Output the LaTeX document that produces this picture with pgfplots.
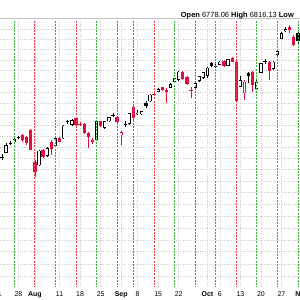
\documentclass[border=0pt]{standalone}
\usepackage{pgfplots}
\pgfplotsset{compat=1.18}
\usepackage{pgfplotstable}
\usepackage{fontspec}
\setmainfont{Liberation Sans}

\definecolor{cred}{RGB}{222,16,64}
\definecolor{linered}{RGB}{238,60,60}
\definecolor{linegreen}{RGB}{56,176,56}
\definecolor{gridgray}{RGB}{205,205,205}
\definecolor{bordergray}{RGB}{195,195,195}

% n = trading day (0 = Jul 22), o h l c
\pgfplotstableread{
n o h l c
1 6326 6369 6322 6360
3 6371 6389 6367 6387
9 6269 6338 6265 6335
11 6310 6349 6305 6345
13 6356 6392 6354 6390
15 6390 6448 6387 6446
17 6451 6477 6446 6470
23 6383 6471 6378 6466
25 6437 6469 6433 6466
26 6466 6487 6462 6485
31 6454 6505 6450 6504
33 6499 6516 6496 6505
34 6498 6515 6494 6512
36 6557 6590 6555 6588
38 6603 6618 6599 6615
41 6621 6643 6618 6637
42 6647 6667 6643 6665
43 6658 6700 6654 6696
47 6620 6646 6615 6642
48 6652 6676 6648 6673
49 6667 6695 6660 6693
50 6676 6718 6664 6715
53 6729 6747 6726 6743
55 6723 6757 6721 6755
58 6625 6673 6622 6655
62 6615 6665 6611 6648
63 6691 6737 6689 6736
66 6709 6747 6704 6743
67 6775 6797 6772 6792
68 6852 6883 6850 6879
69 6888 6911 6883 6900
}\hollowblack

\pgfplotstableread{
n o h l c
0 6307 6318 6291 6304
2 6369 6376 6360 6366
4 6397 6401 6387 6392
16 6466 6473 6455 6463
27 6497 6503 6487 6494
30 6456 6469 6439 6453
35 6552 6557 6528 6534
51 6735 6740 6716 6720
52 6724 6735 6712 6721
60 6688 6693 6642 6673
64 6746 6754 6733 6742
72 6879 6883 6828 6839
}\filledblack

\pgfplotstableread{
n o h l c
29 6403 6421 6360 6416
59 6595 6657 6565 6649
}\hollowred

\pgfplotstableread{
n o h l c
5 6405 6407 6374 6383
6 6394 6398 6360 6368
7 6426 6430 6336 6339
8 6286 6291 6220 6239
10 6338 6342 6300 6305
12 6375 6380 6316 6341
14 6390 6394 6372 6375
18 6481 6485 6446 6451
19 6455 6462 6446 6450
20 6454 6457 6410 6413
21 6413 6416 6346 6397
22 6383 6389 6365 6371
24 6466 6469 6442 6446
28 6488 6491 6457 6461
32 6531 6537 6473 6481
37 6592 6597 6583 6586
39 6623 6625 6604 6608
40 6611 6620 6552 6600
44 6694 6698 6655 6662
45 6671 6676 6634 6639
46 6611 6626 6572 6605
54 6748 6751 6716 6721
56 6760 6763 6740 6743
57 6743 6749 6553 6557
61 6693 6697 6600 6632
65 6741 6744 6655 6700
70 6911 6919 6878 6894
71 6863 6869 6818 6823
}\filledred

\pgfplotsset{
  wick/.style={draw=none, forget plot, error bars/.cd, y dir=plus, y explicit,
    error mark=none, error bar style={#1, line width=0.7bp}},
  body/.style={draw=none, forget plot, error bars/.cd, y dir=plus, y explicit,
    error mark=none, error bar style={#1, line width=3.3bp}},
  hole/.style={draw=none, forget plot, error bars/.cd, y dir=plus, y explicit,
    error mark=none, error bar style={white, line width=1.9bp, shorten >=0.7bp, shorten <=0.7bp}},
  fline/.style={#1, line width=0.8bp, dash pattern=on 2bp off 1.2bp, forget plot},
}

\begin{document}
\begin{tikzpicture}
\begin{axis}[
  at={(0,13bp)}, anchor=south west,
  scale only axis, width=300bp, height=268bp,
  xmin=-0.487, xmax=72.506,
  ymode=log, ymin=5756.6, ymax=6948.6,
  axis line style={draw=none},
  major tick length=0pt, minor tick length=0pt,
  ytick={5800,5850,...,6900},
  yticklabels={},
  xtick={4,8,14,19,24,29,33,38,43,50,53,58,63,68},
  xticklabels={28,\textbf{Aug},11,18,25,\textbf{Sep},8,15,22,\textbf{Oct},6,13,20,27},
  xticklabel style={font=\fontsize{7}{8}\selectfont, anchor=base, yshift=-9.7bp},
  grid=major,
  major grid style={gridgray, line width=0.6bp, dash pattern=on 0.8bp off 1.4bp},
  extra description/.code={\draw[bordergray, line width=0.8bp] (rel axis cs:0,1) -- (rel axis cs:1,1);},
]
% wicks
\addplot[wick=black] table[x=n, y=l, y error plus expr={\thisrow{h}-\thisrow{l}}] {\hollowblack};
\addplot[wick=black] table[x=n, y=l, y error plus expr={\thisrow{h}-\thisrow{l}}] {\filledblack};
\addplot[wick=cred] table[x=n, y=l, y error plus expr={\thisrow{h}-\thisrow{l}}] {\hollowred};
\addplot[wick=cred] table[x=n, y=l, y error plus expr={\thisrow{h}-\thisrow{l}}] {\filledred};
% bodies
\addplot[body=black] table[x=n, y expr={min(\thisrow{o},\thisrow{c})}, y error plus expr={abs(\thisrow{o}-\thisrow{c})}] {\hollowblack};
\addplot[hole] table[x=n, y expr={min(\thisrow{o},\thisrow{c})}, y error plus expr={abs(\thisrow{o}-\thisrow{c})}] {\hollowblack};
\addplot[body=black] table[x=n, y expr={min(\thisrow{o},\thisrow{c})}, y error plus expr={abs(\thisrow{o}-\thisrow{c})}] {\filledblack};
\addplot[body=cred] table[x=n, y expr={min(\thisrow{o},\thisrow{c})}, y error plus expr={abs(\thisrow{o}-\thisrow{c})}] {\hollowred};
\addplot[hole] table[x=n, y expr={min(\thisrow{o},\thisrow{c})}, y error plus expr={abs(\thisrow{o}-\thisrow{c})}] {\hollowred};
\addplot[body=cred] table[x=n, y expr={min(\thisrow{o},\thisrow{c})}, y error plus expr={abs(\thisrow{o}-\thisrow{c})}] {\filledred};
% weekly marker lines
\addplot[fline=linegreen] coordinates {(3,5700) (3,7000)};
\addplot[fline=linered] coordinates {(8,5700) (8,7000)};
\addplot[fline=linegreen] coordinates {(13,5700) (13,7000)};
\addplot[fline=linered] coordinates {(18,5700) (18,7000)};
\addplot[fline=linegreen] coordinates {(23,5700) (23,7000)};
\addplot[fline=linered] coordinates {(28,5700) (28,7000)};
\addplot[fline=linered] coordinates {(32,5700) (32,7000)};
\addplot[fline=linered] coordinates {(37,5700) (37,7000)};
\addplot[fline=linegreen] coordinates {(42,5700) (42,7000)};
\addplot[fline=linered] coordinates {(47,5700) (47,7000)};
\addplot[fline=linegreen] coordinates {(52,5700) (52,7000)};
\addplot[fline=linered] coordinates {(57,5700) (57,7000)};
\addplot[fline=linegreen] coordinates {(62,5700) (62,7000)};
\addplot[fline=linegreen] coordinates {(67,5700) (67,7000)};
\addplot[fline=linegreen] coordinates {(72,5700) (72,7000)};
\coordinate (tA) at (axis cs:-1,5756.6);
\coordinate (tB) at (axis cs:73,5756.6);
\end{axis}
\node[font=\fontsize{7}{8}\selectfont, anchor=base, yshift=-9.7bp] at (tA) {21};
\node[font=\fontsize{7}{8}\selectfont, anchor=base, yshift=-9.7bp] at (tB) {\textbf{Nov}};
\node[anchor=base west, inner sep=0pt, font=\fontsize{7.5}{9}\selectfont] at (180.7bp,282.7bp)
  {\textbf{Open} 6778.06 \textbf{High} 6816.13 \textbf{Low}};
\pgfresetboundingbox
\useasboundingbox (0,0) rectangle (300bp,300bp);
\end{tikzpicture}
\end{document}
